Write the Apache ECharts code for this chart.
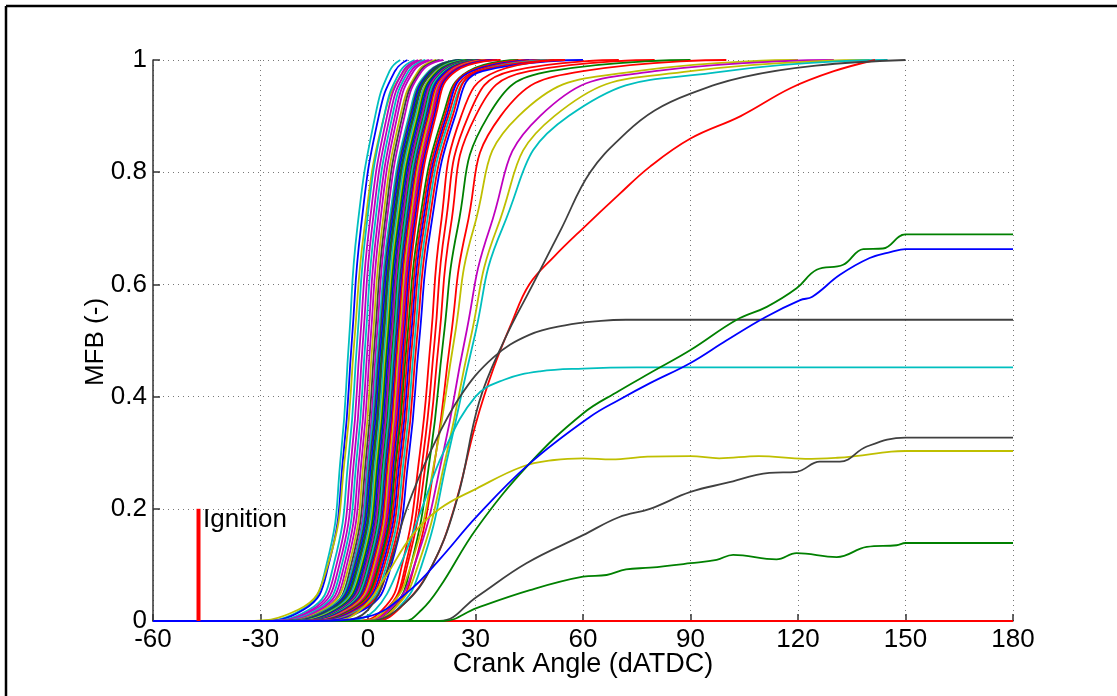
<!DOCTYPE html>
<html>
<head>
<meta charset="utf-8">
<script src="https://cdn.jsdelivr.net/npm/echarts@6/dist/echarts.min.js"></script>
<style>
html,body{margin:0;padding:0;background:#fff;}
#chart{width:1117px;height:696px;}
</style>
</head>
<body>
<div id="chart"></div>
<script>
// ---------------- DATA ----------------
const X_TICKS = [-60, -30, 0, 30, 60, 90, 120, 150, 180];
const Y_TICKS = [0, 0.2, 0.4, 0.6, 0.8, 1];
const X_NAME = 'Crank Angle (dATDC)';
const Y_NAME = 'MFB (-)';
const IGNITION_LABEL = 'Ignition';
const IGNITION_ANGLE = -47.3;
const IGNITION_HEIGHT = 0.2;

// MFB levels at which crank angles were read for the fast-burning cycles
const LEVELS = [0, 0.02, 0.1, 0.3, 0.5, 0.7, 0.9, 0.98, 1];

// colour code of each fast cycle (b g r c m y k)
const FAST_COLORS = [
  'c','b','y','c','m','m','c','m','m','y','k','m',
  'c','k','b','g','k','c','y','g','b','k','m','g','c','k','b','r','y','m','r','b','r',
  'g','r','b','r','c','r','b',
  'r','r','r','g','r','y','m','y','c'
];
// crank angle (deg) of each fast cycle at the MFB LEVELS
const FAST_ANGLES = [
  [-33,-18.5,-11.6,-7.5,-5.3,-3,2,6,9],
  [-32,-18,-11,-6.8,-4.5,-2,3,7.5,11],
  [-36,-19.5,-11.2,-6.3,-3.8,-1,4.5,10,15],
  [-31,-16.5,-9.6,-5.3,-3,-0.5,4.5,9,13],
  [-30,-15.7,-8.8,-4.5,-2.2,0.3,5.3,9.8,14],
  [-30,-15,-8,-3.7,-1.4,1.1,6.1,10.6,15],
  [-29,-14.2,-7.3,-3,-0.7,1.8,6.8,11.3,16],
  [-28,-13.5,-6.6,-2.3,0,2.5,7.5,12,17],
  [-28,-12.8,-5.9,-1.6,0.7,3.2,8.2,12.7,18],
  [-27,-12.4,-5.3,-1,1.3,3.9,9,14,19],
  [-27,-11.6,-4.7,-0.4,1.9,4.5,9.6,14.5,20],
  [-26,-11.1,-4.2,0.1,2.4,5,10.2,15,21],
  [-26,-11.6,-4.1,0.4,2.9,5.7,11.4,17,26],
  [-26,-11.2,-3.7,0.8,3.3,6.1,11.8,17.3,26],
  [-25,-10.8,-3.3,1.2,3.7,6.5,12.2,17.7,27],
  [-25,-10.4,-2.9,1.6,4.1,6.9,12.6,18,27],
  [-25,-10.1,-2.6,1.9,4.4,7.2,12.9,18.4,28],
  [-24,-9.7,-2.2,2.3,4.8,7.6,13.3,19,28],
  [-24,-9.3,-1.8,2.7,5.2,8,13.7,19.2,29],
  [-23,-9,-1.5,3,5.5,8.3,14,19.5,29],
  [-23,-8.6,-1.1,3.4,5.9,8.7,14.4,20,30],
  [-22,-8.2,-0.7,3.8,6.3,9.1,14.8,20.3,30],
  [-22,-7.9,-0.4,4.1,6.6,9.4,15.1,20.6,31],
  [-22,-7.5,0,4.5,7,9.8,15.5,21,31],
  [-21,-7.2,0.3,4.8,7.3,10.1,15.8,21.3,32],
  [-21,-6.8,0.7,5.2,7.7,10.5,16.2,21.7,32],
  [-21,-6.4,1.1,5.6,8.1,10.9,16.6,22,33],
  [-20,-6.1,1.4,5.9,8.4,11.2,16.9,22.5,33],
  [-20,-5.7,1.8,6.3,8.8,11.6,17.3,23,34],
  [-20,-5.3,2.2,6.7,9.2,12,17.7,23.2,35],
  [-19,-4.9,2.6,7.1,9.6,12.4,18.1,23.6,35],
  [-19,-4.5,3,7.5,10,12.8,18.5,24,36],
  [-19,-4.1,3.4,7.9,10.4,13.2,18.9,24.5,37],
  [-19,-4.6,3.1,8.1,10.9,14.1,20.9,28,42],
  [-18,-4.1,3.6,8.6,11.4,14.6,21.4,28.4,45],
  [-18,-3.6,4.1,9.1,11.9,15.1,21.9,29,48],
  [-17,-3.1,4.6,9.6,12.4,15.6,22.4,30,50],
  [-17,-2.5,5.2,10.2,13,16.2,23,31,52],
  [-16,-1.9,5.8,10.8,13.6,16.8,23.6,31,55],
  [-16,-1.2,6.5,11.5,14.3,17.5,24.3,32,60],
  [-5,4,9.5,14.5,17.5,20.2,26,36,55],
  [-4,5,10.5,15.5,18.6,21.5,28,40,70],
  [-3,5.5,11,16.5,19.8,23,30,45,80],
  [-2,6.5,12,17.5,21,25,33.5,51,90],
  [-2,7,13,19,23,27.5,37,60,100],
  [-4,5,12,19,24,29.5,42,75,120],
  [-3,6,13,21,27,34,48,80,130],
  [-2,7,14,22,28.5,36,52,90,140],
  [0,8,15,22.5,29.5,37.5,56,100,145]
];

// slow / partial-burn cycles: [crank angle, MFB] pairs
const RED_SLOW = [[-60,0],[2,0],[10,0.03],[18,0.1],[24,0.2],[30,0.35],[35,0.45],[40,0.53],[45,0.6],[52,0.65],[60,0.7],[70,0.76],[78.7,0.81],[90,0.86],[104,0.9],[118,0.95],[130,0.98],[141.5,1]];
const BLACK_SLOW = [[-60,0],[0,0],[10,0.03],[18,0.1],[25,0.22],[31,0.39],[38,0.5],[46,0.6],[54,0.7],[62,0.8],[72,0.87],[80,0.91],[90,0.94],[105,0.97],[125,0.99],[150,1]];
const BLACK_PLATEAU = [[-60,0],[-8,0],[0,0.02],[6,0.1],[10.8,0.2],[17.3,0.3],[25.7,0.4],[35,0.47],[45,0.51],[55,0.527],[65,0.535],[72,0.537],[180,0.537]];
const CYAN_PLATEAU = [[-60,0],[-6,0],[2,0.02],[9,0.1],[15,0.2],[21,0.3],[30,0.4],[38,0.43],[48,0.445],[60,0.45],[75,0.452],[180,0.452]];
const YELLOW_PLATEAU = [[-60,0],[-10,0],[-2,0.02],[5,0.08],[12,0.15],[20,0.2],[30.3,0.236],[43,0.275],[52,0.287],[60,0.29],[68,0.288],[78,0.293],[90,0.294],[98,0.29],[109,0.294],[122,0.289],[131,0.291],[136,0.294],[146,0.302],[150,0.303],[180,0.303]];
const GREEN_SLOW = [[-60,0],[10,0],[15,0.02],[20,0.06],[30.3,0.165],[45,0.28],[60,0.37],[70,0.41],[78.7,0.442],[90,0.483],[102.9,0.537],[111.3,0.56],[119.6,0.593],[125.2,0.626],[132.6,0.635],[138.2,0.663],[143.7,0.664],[150,0.689],[180,0.689]];
const BLACK_LOW = [[-60,0],[20,0],[30.3,0.043],[44.2,0.103],[60,0.153],[70,0.185],[78.7,0.2],[90,0.23],[100,0.246],[112,0.264],[119.6,0.266],[126.1,0.284],[131.7,0.284],[139.2,0.311],[150,0.327],[180,0.327]];
const GREEN_LOW = [[-60,0],[21,0],[30.3,0.023],[45.2,0.055],[60,0.079],[66.6,0.082],[72,0.092],[78.7,0.095],[90,0.103],[97.3,0.109],[101.9,0.118],[114,0.11],[119.6,0.121],[130.8,0.114],[139.2,0.132],[147.5,0.135],[150,0.139],[180,0.139]];
const BLUE_SLOW = [[-60,0],[-16,0],[0,0.008],[11.7,0.055],[20,0.11],[30.3,0.186],[45,0.28],[62,0.364],[70,0.394],[78.7,0.424],[90,0.46],[100,0.5],[111,0.542],[120.6,0.572],[124,0.578],[131.7,0.617],[140,0.647],[146,0.658],[150,0.663],[180,0.663]];
const RED_MISFIRE = [[-60,0],[180,0]];

// ---------------- CHART ----------------
const COLOR_MAP = {b:'#0000ff', g:'#008000', r:'#ff0000', c:'#00bfbf', m:'#bf00bf', y:'#bfbf00', k:'#404040'};
const LW = 1.8;
function lineSeries(data, color, smooth) {
  return {
    type: 'line', data: data, symbol: 'none', silent: true,
    smooth: smooth,
    lineStyle: {color: color, width: LW}
  };
}
const series = [];
series.push(lineSeries(RED_MISFIRE, COLOR_MAP.r, false));
FAST_ANGLES.forEach((angles, i) => {
  const pts = [[-60, 0]];
  angles.forEach((a, j) => pts.push([a, LEVELS[j]]));
  series.push(lineSeries(pts, COLOR_MAP[FAST_COLORS[i]], 0.5));
});
series.push(lineSeries(RED_SLOW, COLOR_MAP.r, 0.4));
series.push(lineSeries(BLACK_SLOW, COLOR_MAP.k, 0.4));
series.push(lineSeries(BLACK_PLATEAU, COLOR_MAP.k, 0.4));
series.push(lineSeries(CYAN_PLATEAU, COLOR_MAP.c, 0.4));
series.push(lineSeries(YELLOW_PLATEAU, COLOR_MAP.y, 0.4));
series.push(lineSeries(GREEN_SLOW, COLOR_MAP.g, 0.4));
series.push(lineSeries(BLACK_LOW, COLOR_MAP.k, 0.4));
series.push(lineSeries(GREEN_LOW, COLOR_MAP.g, 0.4));
series.push(lineSeries(BLUE_SLOW, COLOR_MAP.b, 0.4));
series.push({
  type: 'line', symbol: 'none', silent: true,
  data: [[IGNITION_ANGLE, 0], [IGNITION_ANGLE, IGNITION_HEIGHT]],
  lineStyle: {color: '#ff0000', width: 4}, z: 5
});

const FONT = 'Liberation Sans, Arial, sans-serif';
const chart = echarts.init(document.getElementById('chart'), null, {renderer: 'canvas'});
chart.setOption({
  animation: false,
  backgroundColor: '#ffffff',
  grid: {left: 153, right: 104, top: 60, bottom: 75, containLabel: false},
  xAxis: {
    type: 'value', min: X_TICKS[0], max: X_TICKS[X_TICKS.length - 1], interval: 30,
    axisLine: {show: true, onZero: false, lineStyle: {color: '#333', width: 1.5}},
    axisTick: {show: true, inside: true, length: 7, lineStyle: {color: '#333', width: 1.5}},
    axisLabel: {color: '#000', fontSize: 26, fontFamily: FONT, margin: 6},
    splitLine: {show: true, lineStyle: {type: [1, 4], color: '#777', width: 1}}
  },
  yAxis: {
    type: 'value', min: Y_TICKS[0], max: Y_TICKS[Y_TICKS.length - 1], interval: 0.2,
    axisLine: {show: true, onZero: false, lineStyle: {color: '#333', width: 1.5}},
    axisTick: {show: true, inside: true, length: 7, lineStyle: {color: '#333', width: 1.5}},
    axisLabel: {color: '#000', fontSize: 26, fontFamily: FONT, margin: 6,
      formatter: v => String(Math.round(v * 10) / 10)},
    splitLine: {show: true, lineStyle: {type: [1, 4], color: '#777', width: 1}}
  },
  graphic: [
    {type: 'line', shape: {x1: 6, y1: 6, x2: 1117, y2: 6}, style: {stroke: '#000', lineWidth: 2.5}},
    {type: 'line', shape: {x1: 6, y1: 6, x2: 6, y2: 696}, style: {stroke: '#000', lineWidth: 2.5}},
    {type: 'text', x: 583, y: 665, style: {text: X_NAME, font: '27px ' + FONT, fill: '#000', align: 'center', verticalAlign: 'middle'}},
    {type: 'text', x: 96, y: 342, rotation: Math.PI / 2, style: {text: Y_NAME, font: '26px ' + FONT, fill: '#000', align: 'center', verticalAlign: 'middle'}},
    {type: 'text', x: 203, y: 507, style: {text: IGNITION_LABEL, font: '26px ' + FONT, fill: '#000', align: 'left', verticalAlign: 'alphabetic'}}
  ],
  series: series
});
</script>
</body>
</html>
